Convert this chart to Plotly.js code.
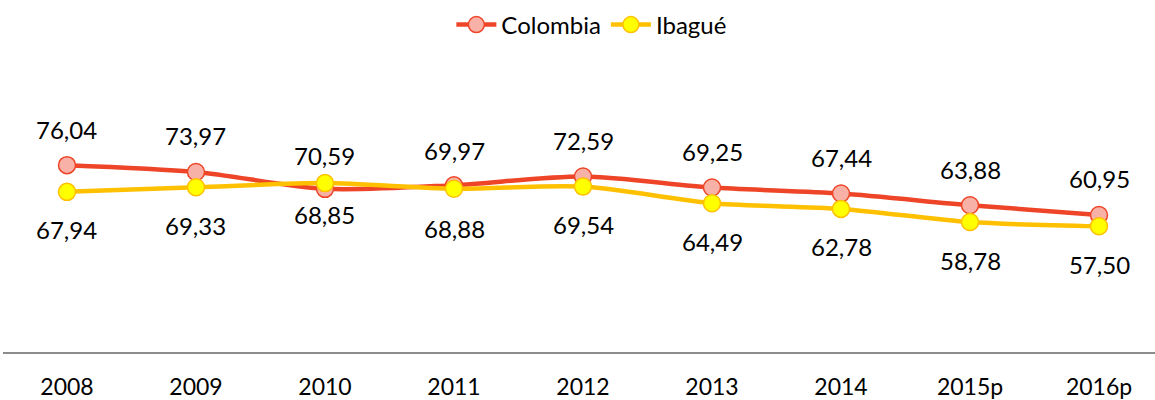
<!DOCTYPE html>
<html>
<head>
<meta charset="utf-8">
<script src="https://cdn.plot.ly/plotly-3.0.1.min.js"></script>
<style>html,body{margin:0;padding:0;background:#fff;}#chart{width:1155px;height:400px;}</style>
</head>
<body>
<div id="chart"></div>
<script>
const years = ["2008","2009","2010","2011","2012","2013","2014","2015p","2016p"];
const colombia = [76.04, 73.97, 68.85, 69.97, 72.59, 69.25, 67.44, 63.88, 60.95];
const ibague = [67.94, 69.33, 70.59, 68.88, 69.54, 64.49, 62.78, 58.78, 57.50];

const FONT = "Lato, 'Open Sans', sans-serif";
const fmt = v => v.toFixed(2).replace('.', ',');

const colShift = [36, 36, -26, 35, 36, 36, 36, 36, 36];
const ibaShift = [-38, -38, 28, -40, -38, -38, -38, -38, -38];

const annotations = [];
years.forEach((y, i) => {
  annotations.push({x: i, y: colombia[i], xref: 'x', yref: 'y', text: fmt(colombia[i]), showarrow: false, yshift: colShift[i], font: {family: FONT, size: 24, color: '#000'}});
  annotations.push({x: i, y: ibague[i], xref: 'x', yref: 'y', text: fmt(ibague[i]), showarrow: false, yshift: ibaShift[i], font: {family: FONT, size: 24, color: '#000'}});
});

const traces = [
  {x: years, y: colombia, name: 'Colombia', type: 'scatter', mode: 'lines+markers',
   line: {color: '#EE4528', width: 4.5, shape: 'spline', smoothing: 0.8},
   marker: {size: 17, color: '#F7B1A7', line: {color: '#EE4528', width: 1.5}}},
  {x: years, y: ibague, name: 'Ibagué', type: 'scatter', mode: 'lines+markers',
   line: {color: '#FFC000', width: 4.5, shape: 'spline', smoothing: 0.8},
   marker: {size: 17, color: '#FFFF00', line: {color: '#FFC000', width: 1.5}}}
];

const layout = {
  width: 1155, height: 400,
  margin: {l: 3, r: 0, t: 40, b: 48},
  paper_bgcolor: '#fff', plot_bgcolor: '#fff',
  font: {family: FONT, size: 24, color: '#000'},
  showlegend: true,
  legend: {orientation: 'h', xref: 'container', yref: 'container', x: 0.512, y: 0.9375, xanchor: 'center', yanchor: 'middle', font: {family: FONT, size: 24, color: '#000'}, itemwidth: 40, tracegroupgap: 0},
  xaxis: {type: 'category', range: [-0.496, 8.434], showline: true, linecolor: '#8C8C8C', linewidth: 1.5, showgrid: false, zeroline: false, ticks: '', ticklabelstandoff: 14, tickfont: {family: FONT, size: 23, color: '#000'}, fixedrange: true},
  yaxis: {range: [19.4, 111.7], visible: false, showgrid: false, zeroline: false, fixedrange: true},
  annotations: annotations
};

Plotly.newPlot('chart', traces, layout, {displayModeBar: false, staticPlot: true});
</script>
</body>
</html>
